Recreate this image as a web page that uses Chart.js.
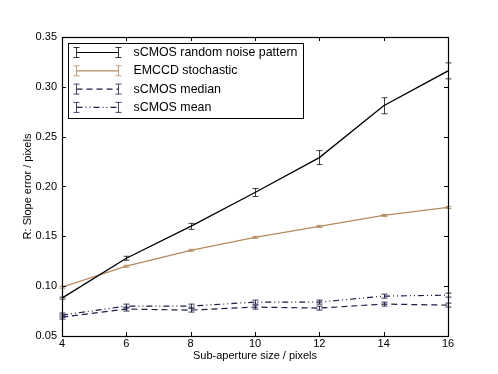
<!DOCTYPE html>
<html lang="en">
<head>
    <meta charset="UTF-8">
    <title>Slope error vs sub-aperture size</title>
    <script src="https://cdn.jsdelivr.net/npm/chart.js"></script>
    <style>
        body { margin: 0; background: #fff; }
        #wrap { width: 498px; height: 374px; }
    </style>
</head>
<body>
<div id="wrap"><canvas id="grafico" width="498" height="374"></canvas></div>
<script>
    var tamanhos = [4, 6, 8, 10, 12, 14, 16];
    var ticksX = [4, 6, 8, 10, 12, 14, 16];
    var ticksY = [0.05, 0.10, 0.15, 0.20, 0.25, 0.30, 0.35];

    var ruidoAleatorio = [0.088, 0.128, 0.160, 0.194, 0.229, 0.281, 0.316];
    var erroRuido = [0.001, 0.002, 0.003, 0.004, 0.007, 0.008, 0.008];
    var emccd = [0.099, 0.120, 0.136, 0.149, 0.160, 0.171, 0.179];
    var erroEmccd = [0.001, 0.001, 0.001, 0.001, 0.001, 0.001, 0.001];
    var mediana = [0.069, 0.077, 0.076, 0.079, 0.078, 0.082, 0.081];
    var erroMediana = [0.002, 0.002, 0.002, 0.002, 0.002, 0.002, 0.002];
    var media = [0.071, 0.080, 0.080, 0.084, 0.084, 0.090, 0.091];
    var erroMedia = [0.002, 0.002, 0.002, 0.002, 0.002, 0.002, 0.002];

    var rotulos = ['sCMOS random noise pattern', 'EMCCD stochastic', 'sCMOS median', 'sCMOS mean'];
    var cores = ['#000000', '#b48a5e', '#1c1c45', '#1c1c45'];
    var tracos = [[], [], [6, 4], [6, 3, 1, 3, 1, 3]];
    var series = [ruidoAleatorio, emccd, mediana, media];
    var erros = [erroRuido, erroEmccd, erroMediana, erroMedia];

    function pontos(valores) {
        return tamanhos.map(function (x, i) { return { x: x, y: valores[i] }; });
    }

    // barras de erro, ticks internos e legenda estilo matplotlib
    var estiloMpl = {
        id: 'estiloMpl',
        afterDatasetsDraw: function (chart) {
            var ctx = chart.ctx, sx = chart.scales.x, sy = chart.scales.y;
            ctx.save();
            series.forEach(function (s, k) {
                ctx.strokeStyle = cores[k];
                ctx.globalAlpha = k === 0 ? 0.75 : 0.9;
                ctx.lineWidth = 1;
                s.forEach(function (v, i) {
                    var px = Math.round(sx.getPixelForValue(tamanhos[i])) + 0.5;
                    var y1 = sy.getPixelForValue(v - erros[k][i]);
                    var y2 = sy.getPixelForValue(v + erros[k][i]);
                    ctx.beginPath();
                    ctx.moveTo(px, y1); ctx.lineTo(px, y2);
                    ctx.moveTo(px - 3, y1); ctx.lineTo(px + 3, y1);
                    ctx.moveTo(px - 3, y2); ctx.lineTo(px + 3, y2);
                    ctx.stroke();
                });
            });
            ctx.restore();
        },
        afterDraw: function (chart) {
            var ctx = chart.ctx, a = chart.chartArea, sx = chart.scales.x, sy = chart.scales.y;
            ctx.save();
            ctx.strokeStyle = '#000';
            ctx.lineWidth = 1;
            ctx.beginPath();
            ticksX.forEach(function (t) {
                var px = Math.round(sx.getPixelForValue(t)) + 0.5;
                ctx.moveTo(px, a.bottom); ctx.lineTo(px, a.bottom - 4);
                ctx.moveTo(px, a.top); ctx.lineTo(px, a.top + 4);
            });
            ticksY.forEach(function (t) {
                var py = Math.round(sy.getPixelForValue(t)) + 0.5;
                ctx.moveTo(a.left, py); ctx.lineTo(a.left + 4, py);
                ctx.moveTo(a.right, py); ctx.lineTo(a.right - 4, py);
            });
            ctx.stroke();
            ctx.lineWidth = 1.2;
            ctx.strokeRect(Math.round(a.left) + 0.5, Math.round(a.top) + 0.5, Math.round(a.right - a.left), Math.round(a.bottom - a.top));

            // legenda
            var bx = a.left + 6.5, by = a.top + 6.5, bw = 235, bh = 75;
            ctx.fillStyle = '#fff';
            ctx.fillRect(bx, by, bw, bh);
            ctx.lineWidth = 1;
            ctx.strokeRect(bx, by, bw, bh);
            ctx.font = '12.4px "Liberation Sans", Arial, sans-serif';
            ctx.textBaseline = 'middle';
            rotulos.forEach(function (r, k) {
                var ly = by + 9 + k * 18.3;
                var x1 = bx + 8, x2 = bx + 50;
                ctx.strokeStyle = cores[k];
                ctx.lineWidth = 1.2;
                ctx.setLineDash(tracos[k]);
                ctx.beginPath(); ctx.moveTo(x1, ly); ctx.lineTo(x2, ly); ctx.stroke();
                ctx.setLineDash([]);
                ctx.lineWidth = 1;
                ctx.globalAlpha = 0.8;
                [x1, x2].forEach(function (xx) {
                    ctx.beginPath();
                    ctx.moveTo(xx, ly - 5); ctx.lineTo(xx, ly + 5);
                    ctx.moveTo(xx - 3, ly - 5); ctx.lineTo(xx + 3, ly - 5);
                    ctx.moveTo(xx - 3, ly + 5); ctx.lineTo(xx + 3, ly + 5);
                    ctx.stroke();
                });
                ctx.globalAlpha = 1;
                ctx.fillStyle = '#000';
                ctx.fillText(r, bx + 65, ly);
            });
            ctx.restore();
        }
    };

    var fonte = { family: '"Liberation Sans", Arial, sans-serif', size: 11 };

    var grafico = new Chart(document.getElementById('grafico').getContext('2d'), {
        type: 'line',
        data: {
            datasets: series.map(function (s, k) {
                return {
                    label: rotulos[k],
                    data: pontos(s),
                    borderColor: cores[k],
                    borderWidth: k < 2 ? 1.3 : 1.2,
                    borderDash: tracos[k],
                    pointRadius: 0,
                    fill: false,
                    tension: 0
                };
            })
        },
        options: {
            responsive: false,
            animation: false,
            layout: { padding: { left: 0, top: 37, right: 50, bottom: 0 } },
            plugins: { legend: { display: false }, tooltip: { enabled: false } },
            scales: {
                x: {
                    type: 'linear', min: 4, max: 16,
                    grid: { display: false, drawTicks: false, tickLength: 0 },
                    border: { display: false },
                    afterBuildTicks: function (s) { s.ticks = ticksX.map(function (v) { return { value: v }; }); },
                    afterFit: function (s) { s.height = 38; },
                    ticks: { color: '#000', padding: 1, font: fonte },
                    title: { display: true, text: 'Sub-aperture size / pixels', color: '#000', padding: { top: 0, bottom: 11 }, font: fonte }
                },
                y: {
                    min: 0.05, max: 0.35,
                    grid: { display: false, drawTicks: false, tickLength: 0 },
                    border: { display: false },
                    afterBuildTicks: function (s) { s.ticks = ticksY.map(function (v) { return { value: v }; }); },
                    afterFit: function (s) { s.width = 62; },
                    ticks: { color: '#000', padding: 5, font: fonte,
                             callback: function (v) { return v.toFixed(2); } },
                    title: { display: true, text: 'R: Slope error / pixels', color: '#000', padding: { top: 21, bottom: 0 }, font: fonte }
                }
            }
        },
        plugins: [estiloMpl]
    });
</script>
</body>
</html>
